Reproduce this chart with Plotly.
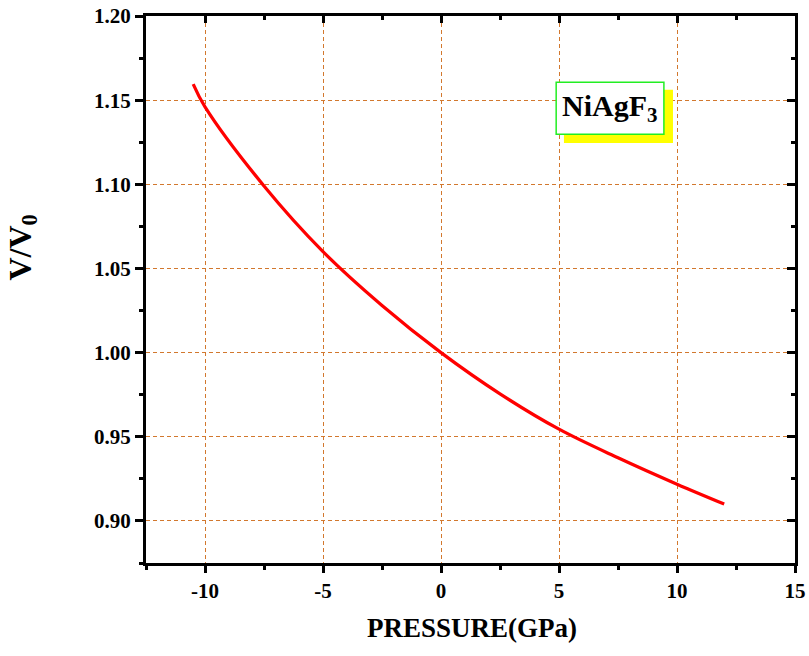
import plotly.graph_objects as go

# Equation-of-state curve for NiAgF3: relative volume vs. pressure
pressure_gpa = [-10.5, -10.0, -7.5, -5.0, -2.5, 0.0, 2.5, 5.0, 7.5, 10.0, 12.0]
volume_ratio = [1.1595, 1.146, 1.099, 1.060, 1.028, 1.000, 0.9755, 0.9545, 0.9375, 0.9218, 0.910]

x_tick_vals = [-10, -5, 0, 5, 10, 15]
x_tick_text = ["-10", "-5", "0", "5", "10", "15"]
y_tick_vals = [0.90, 0.95, 1.00, 1.05, 1.10, 1.15, 1.20]
y_tick_text = ["0.90", "0.95", "1.00", "1.05", "1.10", "1.15", "1.20"]

x_range = [-12.5, 15]
y_range = [0.875, 1.20]

FONT = "Liberation Serif, Times New Roman, serif"
AXIS_COLOR = "black"
GRID_COLOR = "#D2782E"

fig = go.Figure()
fig.add_trace(go.Scatter(
    x=pressure_gpa, y=volume_ratio, mode="lines",
    line=dict(color="#FF0000", width=3.2, shape="spline", smoothing=1.0),
    showlegend=False, hoverinfo="skip",
))
# invisible trace to bring up the mirrored top/right axes
fig.add_trace(go.Scatter(x=[None], y=[None], xaxis="x2", yaxis="y2",
                         showlegend=False, hoverinfo="skip"))

tick_font = dict(family=FONT, size=21, color="black", weight="bold")

fig.update_layout(
    template="none",
    width=809, height=656,
    margin=dict(l=146, r=14, t=16, b=93, autoexpand=False),
    paper_bgcolor="white", plot_bgcolor="white",
    xaxis=dict(
        range=x_range, tickvals=x_tick_vals, ticktext=x_tick_text,
        ticks="outside", ticklen=7, tickwidth=3, tickcolor=AXIS_COLOR,
        showline=True, linewidth=3, linecolor=AXIS_COLOR, automargin=False,
        showgrid=True, gridcolor=GRID_COLOR, gridwidth=1, griddash="4px,3px",
        zeroline=False, tickfont=tick_font,
        minor=dict(ticks="outside", ticklen=4, tickwidth=3, tickcolor=AXIS_COLOR,
                   dtick=2.5, tick0=0, showgrid=False),
    ),
    yaxis=dict(
        range=y_range, tickvals=y_tick_vals, ticktext=y_tick_text,
        ticks="outside", ticklen=8, tickwidth=3, tickcolor=AXIS_COLOR,
        showline=True, linewidth=3, linecolor=AXIS_COLOR, automargin=False,
        showgrid=True, gridcolor=GRID_COLOR, gridwidth=1, griddash="4px,3px",
        zeroline=False, tickfont=tick_font,
        minor=dict(ticks="outside", ticklen=4, tickwidth=3, tickcolor=AXIS_COLOR,
                   dtick=0.025, tick0=0.9, showgrid=False),
    ),
    xaxis2=dict(
        overlaying="x", side="top", range=x_range, tickvals=x_tick_vals,
        ticks="inside", ticklen=7, tickwidth=3, tickcolor=AXIS_COLOR,
        showticklabels=False, showline=True, linewidth=3, linecolor=AXIS_COLOR,
        showgrid=False, zeroline=False, automargin=False,
        minor=dict(ticks="inside", ticklen=4, tickwidth=3, tickcolor=AXIS_COLOR,
                   dtick=2.5, tick0=0, showgrid=False),
    ),
    yaxis2=dict(
        overlaying="y", side="right", range=y_range, tickvals=y_tick_vals,
        ticks="inside", ticklen=8, tickwidth=3, tickcolor=AXIS_COLOR,
        showticklabels=False, showline=True, linewidth=3, linecolor=AXIS_COLOR,
        showgrid=False, zeroline=False, automargin=False,
        minor=dict(ticks="inside", ticklen=4, tickwidth=3, tickcolor=AXIS_COLOR,
                   dtick=0.025, tick0=0.9, showgrid=False),
    ),
)

# axis titles
fig.add_annotation(
    text="PRESSURE(GPa)", xref="paper", yref="paper", x=0.502, y=-0.119,
    xanchor="center", yanchor="middle", showarrow=False,
    font=dict(family=FONT, size=27, color="black", weight="bold"),
)
fig.add_annotation(
    text="V/V<sub>0</sub>", xref="paper", yref="paper", x=-0.19, y=0.576,
    xanchor="center", yanchor="middle", showarrow=False, textangle=-90,
    font=dict(family=FONT, size=32, color="black", weight="bold"),
)

# compound label with drop shadow
fig.add_shape(type="rect", xref="paper", yref="paper",
              x0=0.644, x1=0.812, y0=0.768, y1=0.865,
              fillcolor="#FFFF00", line=dict(width=0), layer="above")
fig.add_shape(type="rect", xref="paper", yref="paper",
              x0=0.632, x1=0.798, y0=0.784, y1=0.879,
              fillcolor="white", line=dict(color="#22EE22", width=1.5), layer="above")
fig.add_annotation(
    text="NiAgF<sub>3</sub>", xref="paper", yref="paper", x=0.715, y=0.832,
    xanchor="center", yanchor="middle", showarrow=False,
    font=dict(family=FONT, size=30, color="black", weight="bold"),
)

fig.write_html("out.html")
